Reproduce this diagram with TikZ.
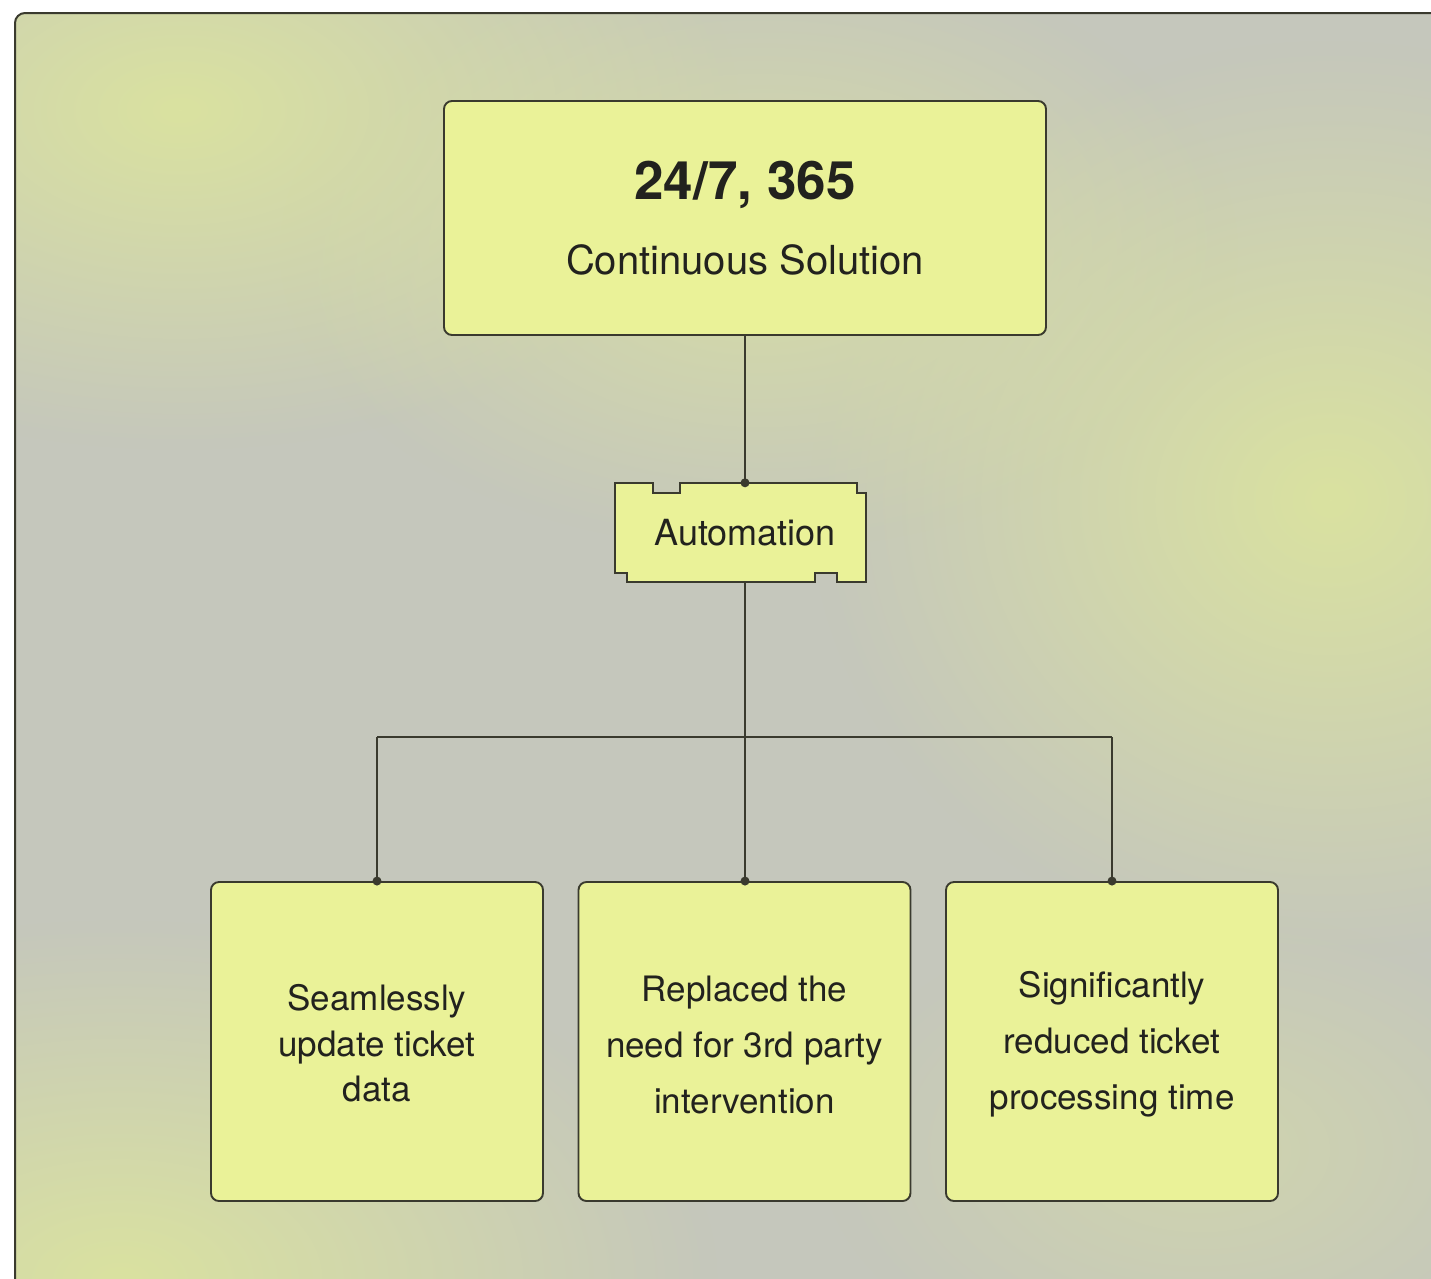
\documentclass[tikz,border=0pt]{standalone}
\usepackage{fontspec}
\setmainfont{TeX Gyre Heros}
\usetikzlibrary{fadings}
\tikzfading[name=blob, inner color=transparent!0, outer color=transparent!100]
\definecolor{bggray}{RGB}{197,199,188}
\definecolor{bgyel}{RGB}{218,226,160}
\definecolor{boxfill}{RGB}{234,242,152}
\definecolor{edge}{RGB}{58,58,46}
\definecolor{ink}{RGB}{34,34,30}
\tikzset{
  card/.style={draw=edge, fill=boxfill, line width=1.9pt, rounded corners=8pt, inner sep=0pt},
  leaf/.style={card, minimum width=332pt, minimum height=319pt, align=center, text=ink,
    font=\fontsize{35}{56}\selectfont},
  wire/.style={draw=edge, line width=1.9pt},
  joint/.style={fill=edge},
}
\begin{document}
\begin{tikzpicture}[x=1pt,y=-1pt]
\useasboundingbox (0,0) rectangle (1431,1278);
\clip (0,0) rectangle (1431,1278);
\fill[white] (0,0) rectangle (1431,1278);
% background frame
\fill[bggray, rounded corners=10pt] (15,13) rectangle (1460,1300);
\begin{scope}
\clip[rounded corners=10pt] (15,13) rectangle (1460,1300);
\fill[bgyel, path fading=blob] (180,110) ellipse (560 and 340);
\fill[bgyel, path fading=blob] (120,1280) ellipse (600 and 360);
\fill[bgyel, path fading=blob] (1330,500) ellipse (520 and 460);
\fill[bgyel, path fading=blob, opacity=0.8] (760,250) ellipse (480 and 300);
\fill[bgyel, path fading=blob, opacity=0.5] (1200,1150) ellipse (380 and 240);
\end{scope}
\draw[edge, line width=2pt, rounded corners=10pt] (1460,13) -- (15,13) -- (15,1300);

% top card
\node[card, minimum width=602pt, minimum height=234pt, align=center, text=ink,
  font=\fontsize{40}{75}\selectfont] (top) at (745,218)
  {{\fontsize{53}{75}\selectfont\bfseries 24/7, 365}\\Continuous Solution};

% automation
\node[minimum width=251pt, minimum height=99pt, inner sep=0pt] (auto) at (745,532.5) {};
\begin{scope}[shift={(auto.center)}]
\filldraw[draw=edge, fill=boxfill, line width=1.9pt]
  (-130,-49.5) -- (-92,-49.5) -- (-92,-39.5) -- (-65,-39.5) -- (-65,-49.5)
  -- (112,-49.5) -- (112,-39.5) -- (121,-39.5) -- (121,49.5) -- (92,49.5)
  -- (92,40.5) -- (70,40.5) -- (70,49.5) -- (-118,49.5) -- (-118,40.5)
  -- (-130,40.5) -- cycle;
\end{scope}
\node[text=ink, font=\fontsize{36}{40}\selectfont, inner sep=0pt] (autotext) at (auto.center) {Automation};

% leaves
\node[leaf, font=\fontsize{35}{45.5}\selectfont] (l1) at (377,1041.5)
  {\rule{0pt}{30pt}Seamlessly\\update ticket\\data};
\node[leaf] (l2) at (744.5,1041.5) {\rule{0pt}{32pt}Replaced the\\need for 3rd party\\intervention};
\node[leaf] (l3) at (1112,1041.5) {\rule{0pt}{32pt}Significantly\\reduced ticket\\processing time};

\coordinate (j) at (745,737);

% connectors
\draw[wire] (top.south) -- (auto.north);
\draw[wire] (auto.south) -- (l2.north -| auto.south);
\draw[wire] (l1.north |- j) -- (l3.north |- j);
\draw[wire] (l1.north |- j) -- (l1.north);
\draw[wire] (l3.north |- j) -- (l3.north);
\fill[joint] (auto.north) circle (4.5);
\fill[joint] (l1.north) circle (4.5);
\fill[joint] (l2.north -| auto.south) circle (4.5);
\fill[joint] (l3.north) circle (4.5);
\end{tikzpicture}
\end{document}
